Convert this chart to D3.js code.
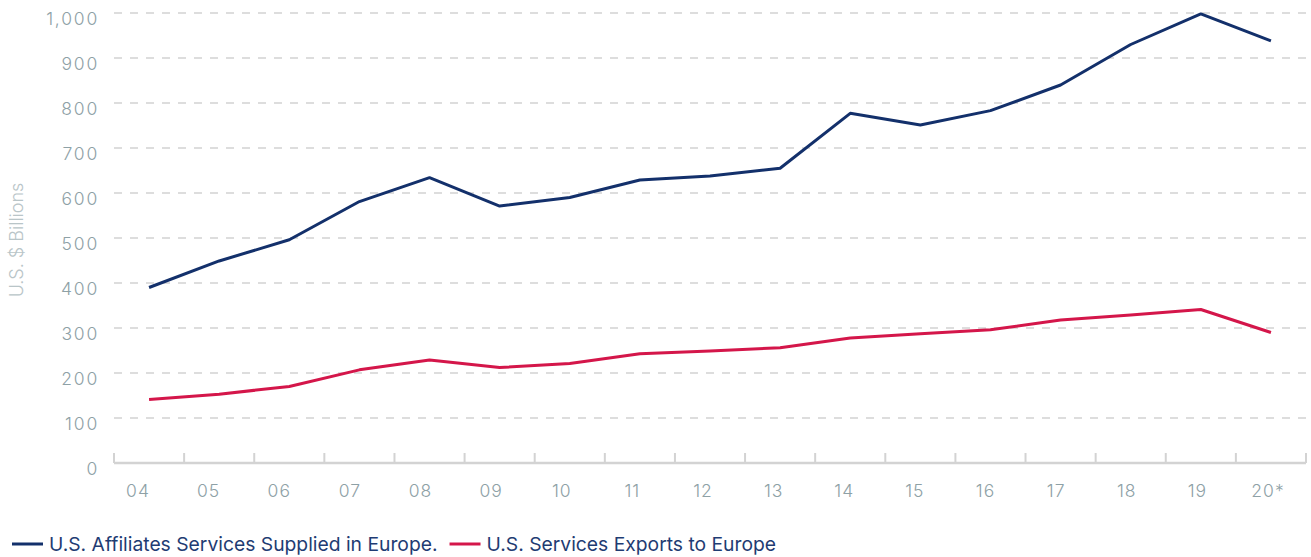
<!DOCTYPE html>
<html lang="en">
<head>
  <meta charset="UTF-8" />
  <title>U.S. Services in Europe</title>
  <script src="https://d3js.org/d3.v7.min.js"></script>
  <style>
    html, body {
      margin: 0;
      padding: 0;
      background: white;
      overflow: hidden;
    }
    svg text {
      font-family: Inter, "Open Sans", sans-serif;
    }
  </style>
</head>
<body>
  <svg id="chart" width="1311" height="557"></svg>

  <script>
    const years = ["04", "05", "06", "07", "08", "09", "10", "11", "12", "13", "14", "15", "16", "17", "18", "19", "20*"];
    const affiliates = [390, 449, 496, 581, 634, 571, 590, 629, 638, 655, 777, 751, 783, 840, 930, 998, 938];
    const exportsEU = [141, 153, 170, 207, 229, 212, 221, 243, 249, 256, 278, 287, 296, 318, 329, 341, 290];
    const yTicks = [0, 100, 200, 300, 400, 500, 600, 700, 800, 900, 1000];

    const navy = "#13306b";
    const red = "#d4164a";
    const tickGrey = "#8ea1a6";

    const svg = d3.select("#chart");

    const plotLeft = 114, plotRight = 1306, plotTop = 13, plotBottom = 463;

    const y = d3.scaleLinear().domain([0, 1000]).range([plotBottom, plotTop]);
    const x = d3.scalePoint().domain(years).range([plotLeft, plotRight]).padding(0.5);
    const xBand = d3.scaleBand().domain(years).range([plotLeft, plotRight]);
    // labels sit a touch left of the points, as in the original
    const xLabel = d3.scalePoint().domain(years).range([138, 1268]);

    // gridlines
    svg.append("g")
      .selectAll("line")
      .data(yTicks.filter(d => d > 0))
      .join("line")
      .attr("x1", plotLeft)
      .attr("x2", plotRight)
      .attr("y1", d => y(d))
      .attr("y2", d => y(d))
      .attr("stroke", "#d2d2d2")
      .attr("stroke-width", 1.5)
      .attr("stroke-dasharray", "8,8");

    // y labels
    svg.append("g")
      .selectAll("text")
      .data(yTicks)
      .join("text")
      .attr("x", 99)
      .attr("y", d => y(d))
      .attr("dy", "0.72em")
      .attr("transform", "translate(0,-1)")
      .attr("text-anchor", "end")
      .attr("fill", tickGrey)
      .style("font-size", "17.5px")
      .style("font-weight", 300)
      .style("letter-spacing", "1.8px")
      .text(d => d3.format(",")(d));

    // axis title
    svg.append("text")
      .attr("transform", `translate(23, 240) rotate(-90)`)
      .attr("text-anchor", "middle")
      .attr("fill", "#b9c5c8")
      .style("font-size", "18px")
      .style("font-weight", 300)
      .text("U.S. $ Billions");

    // x axis baseline and ticks
    svg.append("line")
      .attr("x1", plotLeft)
      .attr("x2", plotRight)
      .attr("y1", plotBottom)
      .attr("y2", plotBottom)
      .attr("stroke", "#d3d3d3")
      .attr("stroke-width", 2.5);

    const tickPos = years.map(d => xBand(d)).concat([xBand(years[years.length - 1]) + xBand.bandwidth()]);
    svg.append("g")
      .selectAll("line")
      .data(tickPos)
      .join("line")
      .attr("x1", d => d)
      .attr("x2", d => d)
      .attr("y1", plotBottom - 10)
      .attr("y2", plotBottom)
      .attr("stroke", "#d3d3d3")
      .attr("stroke-width", 2);

    svg.append("g")
      .selectAll("text")
      .data(years)
      .join("text")
      .attr("x", d => xLabel(d))
      .attr("y", 497)
      .attr("text-anchor", "middle")
      .attr("fill", tickGrey)
      .style("font-size", "17.5px")
      .style("font-weight", 300)
      .style("letter-spacing", "1px")
      .text(d => d);

    // lines
    const line = d3.line()
      .x((d, i) => x(years[i]))
      .y(d => y(d));

    svg.append("path")
      .datum(exportsEU)
      .attr("d", line)
      .attr("fill", "none")
      .attr("stroke", red)
      .attr("stroke-width", 3)
      .attr("stroke-linejoin", "round");

    svg.append("path")
      .datum(affiliates)
      .attr("d", line)
      .attr("fill", "none")
      .attr("stroke", navy)
      .attr("stroke-width", 3)
      .attr("stroke-linejoin", "round");

    // legend, second item placed after the first one's text
    const legend = [
      { label: "U.S. Affiliates Services Supplied in Europe.", color: navy },
      { label: "U.S. Services Exports to Europe", color: red }
    ];
    let lx = 12;
    legend.forEach(d => {
      const g = svg.append("g").attr("transform", `translate(${lx}, 544)`);
      g.append("line")
        .attr("x1", 0)
        .attr("x2", 31)
        .attr("stroke", d.color)
        .attr("stroke-width", 3);
      const t = g.append("text")
        .attr("x", 37)
        .attr("dy", "0.35em")
        .attr("fill", "#1f3c73")
        .style("font-size", "19.3px")
        .text(d.label);
      lx += 37 + t.node().getComputedTextLength() + 12;
    });
  </script>
</body>
</html>
